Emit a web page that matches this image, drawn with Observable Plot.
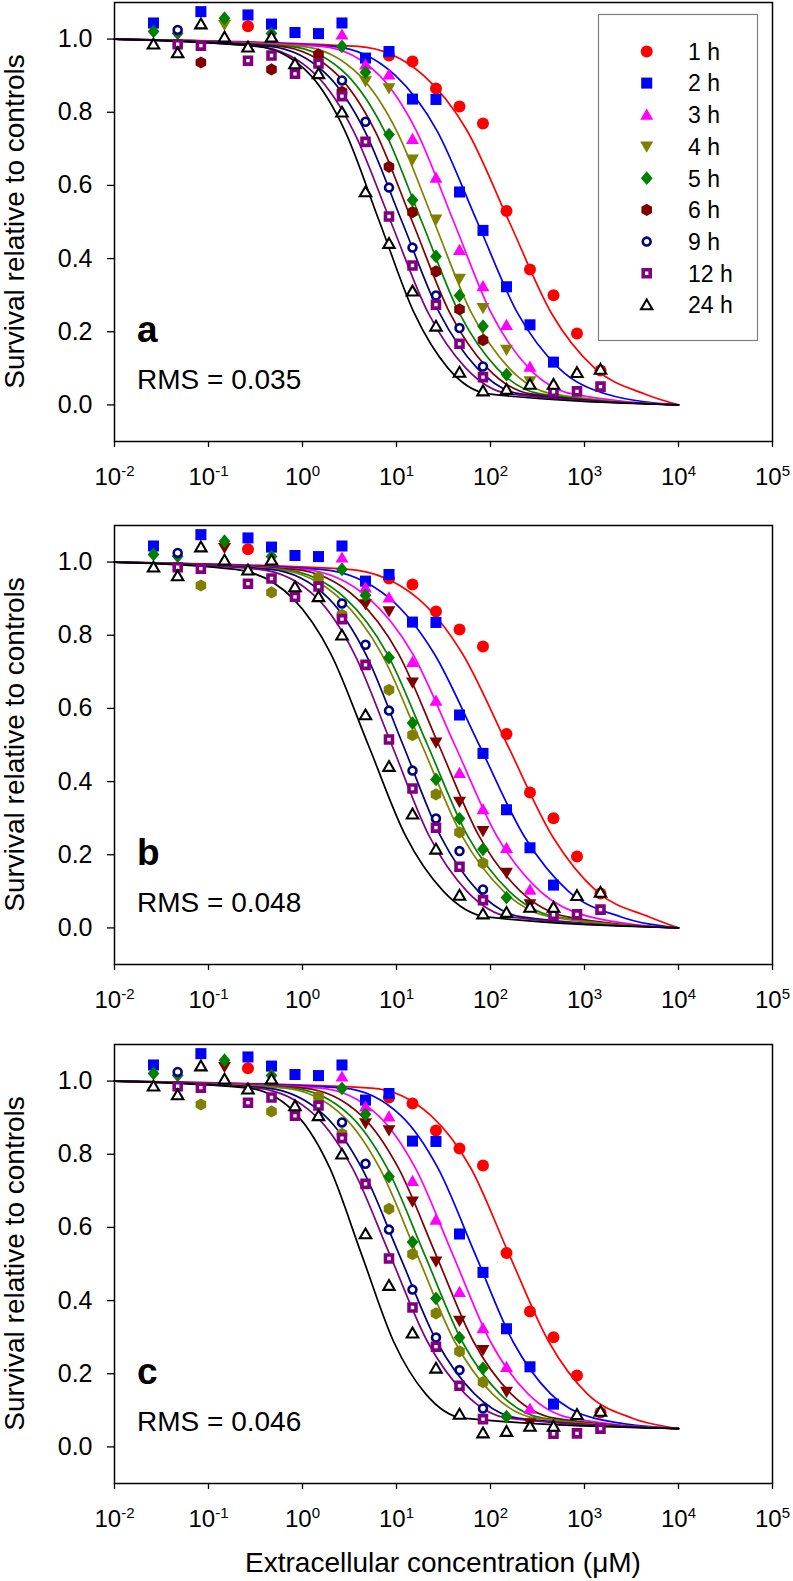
<!DOCTYPE html>
<html><head><meta charset="utf-8">
<script src="https://cdn.jsdelivr.net/npm/d3@7"></script>
<script src="https://cdn.jsdelivr.net/npm/@observablehq/plot@0.6"></script>
<style>
body{margin:0;background:#fff;}
#chart{position:relative;width:793px;height:1581px;font-family:"Liberation Sans",Arial,sans-serif;background:#fff;}
#chart svg{position:absolute;left:0;}
</style></head><body><div id="chart"></div>
<script>
// ---------- data ----------
const concentrations = [0.026, 0.047, 0.083, 0.148, 0.263, 0.468, 0.832, 1.48, 2.63, 4.68, 8.32, 14.8, 26.3, 46.8, 83.2, 148, 263, 468, 832, 1480];
const seriesNames = ["1 h", "2 h", "3 h", "4 h", "5 h", "6 h", "9 h", "12 h", "24 h"];

const survival1h  = [null, null, null, null, 1.035, null, null, null, null, null, 0.955, 0.939, 0.865, 0.816, 0.769, 0.530, 0.370, 0.300, 0.195, 0.094];
const survival2h  = [1.044, null, 1.075, null, 1.066, 1.041, 1.018, 1.015, 1.044, 0.948, 0.966, 0.836, 0.835, 0.582, 0.477, 0.323, 0.219, 0.117, null, null];
const survival3h  = [null, null, null, null, null, null, null, null, 1.012, 0.930, 0.903, 0.727, 0.621, 0.423, 0.324, 0.218, 0.104, null, null, null];
const survival4h  = [null, null, null, 1.039, null, null, null, null, null, 0.885, 0.866, 0.671, 0.507, 0.345, 0.265, 0.151, 0.065, null, null, null];
const survival5h  = [1.021, 1.016, null, 1.057, null, 1.015, null, null, 0.980, 0.909, 0.739, 0.560, 0.406, 0.299, 0.215, 0.083, null, null, null, null];
const survival6h  = [null, null, 0.936, null, null, 0.917, null, 0.958, 0.856, null, 0.651, 0.527, 0.365, 0.261, 0.177, null, null, null, null, null];
const survival9h  = [null, 1.025, null, null, null, null, null, null, 0.887, 0.774, 0.594, 0.430, 0.299, 0.210, 0.105, null, null, null, null, null];
const survival12h = [null, 0.986, 0.982, null, 0.941, 0.955, 0.905, 0.933, 0.844, 0.719, 0.515, 0.381, 0.274, 0.167, 0.076, null, null, 0.036, 0.037, 0.050];
const survival24h = [0.986, 0.962, 1.041, 1.005, 0.978, 1.005, 0.932, 0.905, 0.800, 0.582, 0.441, 0.311, 0.215, 0.089, 0.038, 0.042, 0.056, 0.056, 0.088, 0.097];

// fitted curves: survival levels and the log10 concentration where each curve reaches them
const fitLevelsAB = [0.98, 0.9, 0.75, 0.5, 0.25, 0.1, 0.03];
const fitLevelsC  = [0.981, 0.905, 0.7625, 0.525, 0.2875, 0.145, 0.0785];
const fitLogConcA = [
  [0.59, 1.29, 1.75, 2.20, 2.65, 3.11, 3.64],
  [0.32, 0.99, 1.43, 1.86, 2.29, 2.73, 3.23],
  [0.20, 0.82, 1.21, 1.61, 2.01, 2.41, 2.87],
  [-0.01, 0.61, 1.00, 1.40, 1.80, 2.20, 2.66],
  [-0.14, 0.48, 0.87, 1.27, 1.67, 2.07, 2.53],
  [-0.24, 0.38, 0.77, 1.17, 1.57, 1.97, 2.43],
  [-0.35, 0.27, 0.66, 1.06, 1.46, 1.86, 2.32],
  [-0.47, 0.15, 0.54, 0.94, 1.34, 1.74, 2.20],
  [-0.48, 0.09, 0.45, 0.82, 1.19, 1.55, 1.98]
];
const fitLogConcB = [
  [0.49, 1.23, 1.70, 2.18, 2.66, 3.13, 3.69],
  [0.19, 0.93, 1.40, 1.88, 2.36, 2.83, 3.39],
  [0.01, 0.71, 1.17, 1.62, 2.07, 2.53, 3.06],
  [-0.09, 0.58, 1.02, 1.45, 1.88, 2.32, 2.82],
  [-0.21, 0.46, 0.90, 1.33, 1.76, 2.20, 2.70],
  [-0.27, 0.40, 0.84, 1.27, 1.70, 2.14, 2.64],
  [-0.34, 0.28, 0.67, 1.07, 1.47, 1.87, 2.33],
  [-0.46, 0.16, 0.55, 0.95, 1.35, 1.75, 2.21],
  [-0.71, -0.10, 0.30, 0.70, 1.10, 1.50, 1.96]
];
const fitLogConcC = [
  [0.73, 1.37, 1.79, 2.20, 2.62, 3.03, 3.51],
  [0.43, 1.05, 1.44, 1.84, 2.24, 2.64, 3.10],
  [0.19, 0.81, 1.20, 1.60, 2.00, 2.40, 2.86],
  [0.01, 0.63, 1.02, 1.42, 1.82, 2.22, 2.68],
  [-0.11, 0.51, 0.90, 1.30, 1.70, 2.10, 2.56],
  [-0.19, 0.43, 0.82, 1.22, 1.62, 2.02, 2.48],
  [-0.38, 0.24, 0.63, 1.03, 1.43, 1.83, 2.29],
  [-0.48, 0.14, 0.53, 0.93, 1.33, 1.73, 2.19],
  [-0.58, -0.05, 0.29, 0.63, 0.97, 1.31, 1.71]
];
const fitConcRange = [0.01, 10000];
const fitTopY = [1.0, 1.0, 1.0];
const fitBottomY = [0.0, 0.0, 0.05];

const colorsA  = ["#ff0000", "#0000ff", "#ff00ff", "#808000", "#008000", "#800000", "#000080", "#800080", "#000000"];
const colorsBC = ["#ff0000", "#0000ff", "#ff00ff", "#800000", "#008000", "#808000", "#000080", "#800080", "#000000"];

const panelLetters = ["a", "b", "c"];
const rmsLabels = ["RMS = 0.035", "RMS = 0.048", "RMS = 0.046"];
const xTicks = [1e-2, 1e-1, 1e0, 1e1, 1e2, 1e3, 1e4, 1e5];
const xTickExponents = ["-2", "-1", "0", "1", "2", "3", "4", "5"];
const yTicks = [0, 0.2, 0.4, 0.6, 0.8, 1.0];
const yTickLabels = ["0.0", "0.2", "0.4", "0.6", "0.8", "1.0"];
const yTitle = "Survival relative to controls";
const xTitle = "Extracellular concentration (\u03bcM)";

// ---------- symbols ----------
function sym(fn) { return {draw(ctx, size) { fn(ctx, Math.sqrt(size / Math.PI)); }}; }
const symCircle = sym((c, r) => { c.moveTo(r, 0); c.arc(0, 0, r, 0, 2 * Math.PI); c.closePath(); });
const symSquare = sym((c, r) => { const s = 0.92 * r; c.moveTo(-s, -s); c.lineTo(s, -s); c.lineTo(s, s); c.lineTo(-s, s); c.closePath(); });
const symTriUp = sym((c, r) => { c.moveTo(0, -1.05 * r); c.lineTo(1.08 * r, 0.82 * r); c.lineTo(-1.08 * r, 0.82 * r); c.closePath(); });
const symTriDown = sym((c, r) => { c.moveTo(0, 1.05 * r); c.lineTo(1.08 * r, -0.82 * r); c.lineTo(-1.08 * r, -0.82 * r); c.closePath(); });
const symDiamond = sym((c, r) => { c.moveTo(0, -1.15 * r); c.lineTo(0.98 * r, 0); c.lineTo(0, 1.15 * r); c.lineTo(-0.98 * r, 0); c.closePath(); });
const symHexagon = sym((c, r) => { for (let k = 0; k < 6; k++) { const a = -Math.PI / 2 + k * Math.PI / 3; const px = 1.02 * r * Math.cos(a), py = 1.02 * r * Math.sin(a); if (k) c.lineTo(px, py); else c.moveTo(px, py); } c.closePath(); });
const symRing = sym((c, r) => { const q = 0.66 * r; c.moveTo(q, 0); c.arc(0, 0, q, 0, 2 * Math.PI); c.closePath(); });
const symSquareRing = sym((c, r) => { const s = 0.58 * r; c.moveTo(-s, -s); c.lineTo(s, -s); c.lineTo(s, s); c.lineTo(-s, s); c.closePath(); });
const symTriOpen = sym((c, r) => { c.moveTo(0, -0.92 * r); c.lineTo(0.95 * r, 0.72 * r); c.lineTo(-0.95 * r, 0.72 * r); c.closePath(); });

const markerSymbols = [symCircle, symSquare, symTriUp, symTriDown, symDiamond, symHexagon, symRing, symSquareRing, symTriOpen];
const markerOpen = [false, false, false, false, false, false, true, true, true];
const markerStrokeWidth = [0, 0, 0, 0, 0, 0, 2.6, 3.6, 2.1];
const markerR = 6;

const survivalBySeries = [survival1h, survival2h, survival3h, survival4h, survival5h, survival6h, survival9h, survival12h, survival24h];
const pointsBySeries = survivalBySeries.map((vals, s) =>
  vals.map((v, i) => ({series: seriesNames[s], conc: concentrations[i], survival: v})).filter(d => d.survival !== null));

const fitsByPanel = [fitLogConcA, fitLogConcB, fitLogConcC];
const levelsByPanel = [fitLevelsAB, fitLevelsAB, fitLevelsC];
const colorsByPanel = [colorsA, colorsBC, colorsBC];
const panelTops = [0, 523, 1042];
const panelHeights = [523, 519, 539];

const FONT = "Liberation Sans, Arial, sans-serif";
const container = document.getElementById("chart");

function addText(svg, x, y, txt, attrs) {
  const t = d3.select(svg).append("text").attr("x", x).attr("y", y).text(txt)
    .attr("font-family", FONT).attr("fill", "black").attr("text-anchor", "start");
  for (const k in attrs) t.attr(k, attrs[k]);
  return t;
}

for (let p = 0; p < 3; p++) {
  const colors = colorsByPanel[p];
  const levels = levelsByPanel[p];
  const fits = fitsByPanel[p];
  const curveData = fits.map((logs, s) => [
    {series: seriesNames[s], conc: fitConcRange[0], survival: fitTopY[p]},
    ...logs.map((lg, k) => ({series: seriesNames[s], conc: Math.pow(10, lg), survival: levels[k]})),
    {series: seriesNames[s], conc: fitConcRange[1], survival: fitBottomY[p]}
  ]);

  const marks = [];
  curveData.forEach((cd, s) => {
    marks.push(Plot.line(cd, {x: "conc", y: "survival", stroke: colors[s], strokeWidth: 1.7, curve: "monotone-x"}));
  });
  pointsBySeries.forEach((pts, s) => {
    marks.push(Plot.dot(pts, {
      x: "conc", y: "survival", r: markerR, symbol: markerSymbols[s],
      fill: markerOpen[s] ? "white" : colors[s],
      stroke: markerOpen[s] ? colors[s] : "none",
      strokeWidth: markerStrokeWidth[s]
    }));
  });
  marks.push(Plot.frame({stroke: "black", strokeWidth: 1.5}));
  marks.push(Plot.axisX(xTicks, {anchor: "bottom", tickSize: 6, tickPadding: 20, fontSize: 24, strokeWidth: 1.3,
    tickFormat: d => xTickExponents[xTicks.indexOf(d)], label: null}));
  marks.push(Plot.axisY(yTicks, {anchor: "left", tickSize: 7, tickPadding: 15, fontSize: 25, strokeWidth: 1.3,
    tickFormat: d => yTickLabels[yTicks.indexOf(d)], label: null}));

  const H = panelHeights[p];
  const svg = Plot.plot({
    width: 793, height: H,
    marginLeft: 114, marginRight: 21, marginTop: 2, marginBottom: H - 2 - 439,
    x: {type: "log", domain: [0.01, 1e5]},
    y: {domain: [-0.1, 1.1]},
    style: {fontFamily: FONT, color: "black", background: "white", overflow: "visible"},
    marks
  });
  svg.style.top = panelTops[p] + "px";
  container.appendChild(svg);

  // superscript exponents on x tick labels
  svg.querySelectorAll('g[aria-label="x-axis tick label"] text').forEach(t => {
    const e = t.textContent;
    t.textContent = "";
    const ns = "http://www.w3.org/2000/svg";
    const a = document.createElementNS(ns, "tspan"); a.textContent = "10"; t.appendChild(a);
    const b = document.createElementNS(ns, "tspan"); b.textContent = e;
    b.setAttribute("font-size", "15"); b.setAttribute("dy", "-9"); t.appendChild(b);
  });

  // y title
  addText(svg, 0, 0, yTitle, {"font-size": 28, "text-anchor": "middle", transform: "translate(24,221.5) rotate(-90)"});
  // panel letter and RMS
  addText(svg, 137, 342, panelLetters[p], {"font-size": 37, "font-weight": "bold"});
  addText(svg, 137, 389, rmsLabels[p], {"font-size": 28});

  if (p === 0) {
    const g = d3.select(svg).append("g");
    g.append("rect").attr("x", 598.5).attr("y", 14.5).attr("width", 159).attr("height", 326)
      .attr("fill", "white").attr("stroke", "#808080").attr("stroke-width", 1.2);
    seriesNames.forEach((name, s) => {
      const cy = 51.4 + s * 31.7;
      g.append("path").attr("transform", `translate(646.7,${cy})`)
        .attr("d", d3.symbol(markerSymbols[s], Math.PI * markerR * markerR)())
        .attr("fill", markerOpen[s] ? "white" : colors[s])
        .attr("stroke", markerOpen[s] ? colors[s] : "none")
        .attr("stroke-width", markerStrokeWidth[s]);
      addText(svg, 688, cy + 8.3, name, {"font-size": 23});
    });
  }
  if (p === 2) {
    addText(svg, 443, 530, xTitle, {"font-size": 28, "text-anchor": "middle"});
  }
}
</script></body></html>
